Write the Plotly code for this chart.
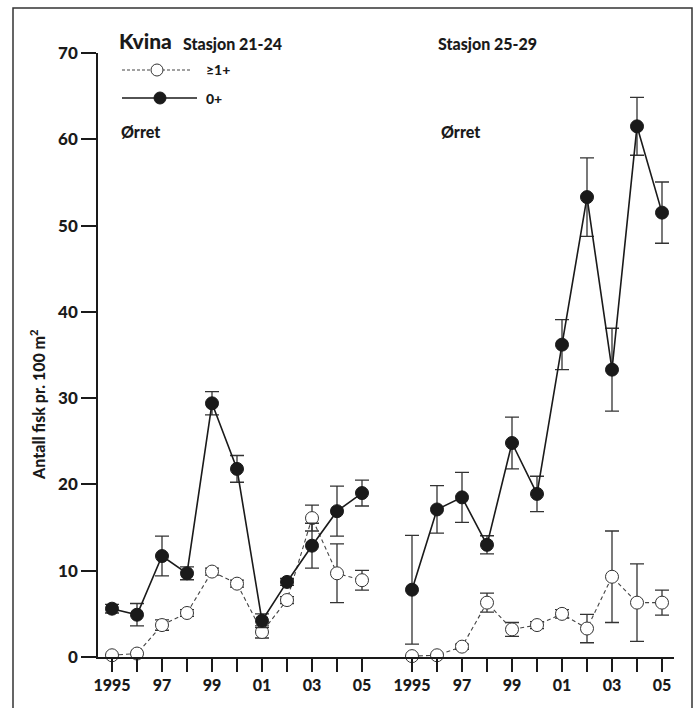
import plotly.graph_objects as go

# ---------------- data ----------------
years = list(range(1995, 2006))
label_years = [1995, 1997, 1999, 2001, 2003, 2005]
tick_labels = ["1995", "97", "99", "01", "03", "05"]

left_0 = [5.6, 4.9, 11.7, 9.7, 29.4, 21.8, 4.2, 8.7, 12.9, 16.9, 19.0]
left_0_err = [0.5, 1.3, 2.3, 0.75, 1.35, 1.55, 0.8, 0.4, 2.6, 2.9, 1.5]
left_1 = [0.2, 0.4, 3.7, 5.1, 9.9, 8.5, 2.9, 6.6, 16.1, 9.7, 8.9]
left_1_err = [0.0, 0.0, 0.6, 0.4, 0.4, 0.4, 0.7, 0.4, 1.5, 3.4, 1.15]

right_0 = [7.8, 17.1, 18.5, 13.0, 24.8, 18.9, 36.2, 53.3, 33.3, 61.5, 51.5]
right_0_err = [6.3, 2.75, 2.9, 1.05, 3.0, 2.05, 2.9, 4.55, 4.8, 3.35, 3.55]
right_1 = [0.1, 0.2, 1.2, 6.3, 3.2, 3.7, 5.0, 3.3, 9.3, 6.3, 6.3]
right_1_err = [0.0, 0.0, 0.3, 1.1, 0.8, 0.4, 0.5, 1.65, 5.3, 4.5, 1.45]

# panel positions on a shared axis (right panel offset by 12 year-slots)
OFFSET = 12
left_x = [y - 1995 for y in years]
right_x = [y - 1995 + OFFSET for y in years]

# ---------------- layout constants ----------------
W, H = 696, 708
L, R, T, B = 98, 22, 53, 51
PW, PH = W - L - R, H - T - B
FONT = "Lato"
WEIGHT = 900
INK = "#1a1a1a"


def px(x):
    return (x - L) / PW


def py(y):
    return (H - B - y) / PH


fig = go.Figure()


def add_series(xs, ys, errs, filled):
    fig.add_trace(go.Scatter(
        x=xs, y=ys, mode="lines+markers", cliponaxis=False,
        line=dict(color=INK if filled else "#444", width=1.6 if filled else 1.1,
                  dash="solid" if filled else "4px,3px"),
        marker=dict(symbol="circle", size=13,
                    color=INK if filled else "white",
                    line=dict(color=INK if filled else "#333", width=1)),
        error_y=dict(type="data", array=errs, visible=True, color="#333",
                     thickness=1.3, width=7),
        showlegend=False, hoverinfo="skip",
    ))


add_series(left_x, left_1, left_1_err, False)
add_series(right_x, right_1, right_1_err, False)
add_series(left_x, left_0, left_0_err, True)
add_series(right_x, right_0, right_0_err, True)

# ---------------- annotations ----------------
ann = []


def text(x, y, s, size, anchor="left"):
    ann.append(dict(x=px(x), y=py(y), xref="paper", yref="paper", text=s,
                    showarrow=False, xanchor=anchor, yanchor="middle",
                    font=dict(family=FONT, size=size, color=INK, weight=WEIGHT)))


text(117, 41, "Kvina", 21)
text(181, 43, "Stasjon 21-24", 16)
text(436, 43, "Stasjon 25-29", 16)
text(119, 131, "Ørret", 16)
text(439, 131, "Ørret", 16)
text(204, 70, "≥1+", 14)
text(204, 98, "0+", 14)

# y axis title
ann.append(dict(x=px(37), y=py(405), xref="paper", yref="paper",
                text="Antall fisk pr. 100 m<sup>2</sup>", textangle=-90,
                showarrow=False, xanchor="center", yanchor="middle",
                font=dict(family=FONT, size=16, color=INK, weight=WEIGHT)))

# ---------------- shapes (frame + legend keys) ----------------
shapes = [
    dict(type="rect", xref="paper", yref="paper",
         x0=px(13), x1=px(692), y0=py(8), y1=py(730),
         line=dict(color="#333", width=1.5)),
    dict(type="line", xref="paper", yref="paper",
         x0=px(122), x1=px(190), y0=py(70), y1=py(70),
         line=dict(color="#444", width=1.1, dash="3px,2px")),
    dict(type="line", xref="paper", yref="paper",
         x0=px(122), x1=px(197), y0=py(98), y1=py(98),
         line=dict(color=INK, width=1.6)),
    dict(type="circle", xref="paper", yref="paper",
         x0=px(151), x1=px(163), y0=py(64), y1=py(76),
         fillcolor="white", line=dict(color="#333", width=1)),
    dict(type="circle", xref="paper", yref="paper",
         x0=px(154), x1=px(166), y0=py(92), y1=py(104),
         fillcolor=INK, line=dict(color=INK, width=1)),
]

major_vals = [y - 1995 for y in label_years] + [y - 1995 + OFFSET for y in label_years]
major_text = tick_labels + tick_labels
minor_vals = [v for v in left_x + right_x if v not in major_vals]

fig.update_layout(
    width=W, height=H,
    margin=dict(l=L, r=R, t=T, b=B),
    paper_bgcolor="white", plot_bgcolor="white",
    annotations=ann, shapes=shapes,
    xaxis=dict(range=[-0.56, 22.48], tickmode="array", tickvals=major_vals,
               ticktext=major_text, ticks="outside", ticklen=13, tickwidth=1.5,
               tickcolor=INK, showline=True, linecolor=INK, linewidth=1.5,
               showgrid=False, zeroline=False,
               minor=dict(tickmode="array", tickvals=minor_vals, ticks="outside",
                          ticklen=13, tickwidth=1.5, tickcolor=INK, showgrid=False),
               tickfont=dict(family=FONT, size=16, color=INK, weight=WEIGHT)),
    yaxis=dict(range=[0, 70], tickmode="array", tickvals=list(range(0, 71, 10)),
               ticks="outside", ticklen=15, tickwidth=1.5, tickcolor=INK,
               showline=True, linecolor=INK, linewidth=1.5,
               showgrid=False, zeroline=False,
               tickfont=dict(family=FONT, size=17, color=INK, weight=WEIGHT)),
)

fig.write_html("out.html")
